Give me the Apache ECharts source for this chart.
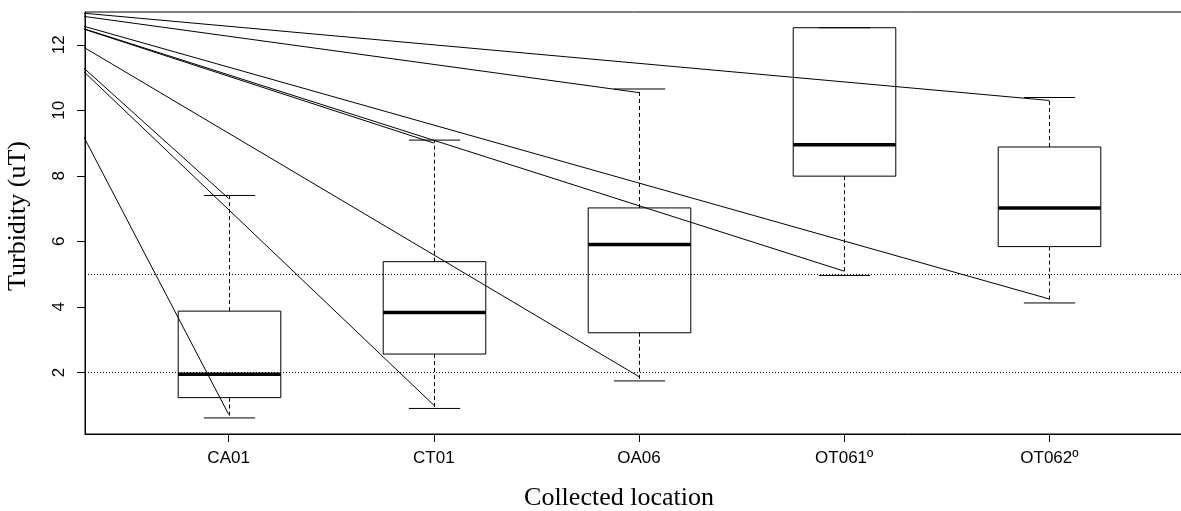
<!DOCTYPE html>
<html>
<head>
<meta charset="utf-8">
<script src="https://cdn.jsdelivr.net/npm/echarts@6/dist/echarts.min.js"></script>
<style>
html,body{margin:0;padding:0;background:#fff;}
#chart{width:1181px;height:511px;}
</style>
</head>
<body>
<div id="chart"></div>
<script>
// ---- data ----
const categories   = ['CA01', 'CT01', 'OA06', 'OT061º', 'OT062º'];
const whiskerLow   = [0.61, 0.90, 1.74, 4.96, 4.12];
const q1           = [1.23, 2.56, 3.21, 7.99, 5.84];
const median       = [1.94, 3.83, 5.90, 8.95, 7.02];
const q3           = [3.87, 5.38, 7.02, 12.52, 8.88];
const whiskerHigh  = [7.40, 9.09, 10.65, 12.52, 10.39];
const yTicks       = [2, 4, 6, 8, 10, 12];
const xTicks       = [1, 2, 3, 4, 5];
const refLines     = [2, 5];
// stray straight segments: all start at one point left of the plot and end near whisker tips
const strayOrigin  = [-0.036, 13.15];
const strayEndX    = [1, 1, 2, 2, 3, 3, 4, 5, 5];
const strayEndY    = [7.31, 0.72, 9.00, 1.00, 10.54, 1.87, 5.09, 10.30, 4.24];

const xLabel = 'Collected location';
const yLabel = 'Turbidity (uT)';

// ---- chart ----
const chart = echarts.init(document.getElementById('chart'), null, {renderer: 'canvas'});

const boxData = categories.map((c, i) => [xTicks[i], whiskerLow[i], q1[i], median[i], q3[i], whiskerHigh[i]]);

function renderBox(params, api) {
  const x = api.value(0);
  const lo = api.coord([x, api.value(1)]);
  const b1 = api.coord([x, api.value(2)]);
  const md = api.coord([x, api.value(3)]);
  const b3 = api.coord([x, api.value(4)]);
  const hi = api.coord([x, api.value(5)]);
  const half = api.size([0.5, 0])[0] / 2;
  const capHalf = half / 2;
  const cx = Math.round(lo[0]) + 0.5;
  const solid = {stroke: '#000', lineWidth: 1, fill: null};
  const dashed = {stroke: '#000', lineWidth: 1, lineDash: [4, 3], fill: null};
  const children = [];
  if (hi[1] < b3[1] - 0.5) {
    children.push({type: 'line', shape: {x1: cx, y1: b3[1], x2: cx, y2: hi[1]}, style: dashed});
  }
  if (lo[1] > b1[1] + 0.5) {
    children.push({type: 'line', shape: {x1: cx, y1: b1[1], x2: cx, y2: lo[1]}, style: dashed});
  }
  children.push({type: 'line', shape: {x1: cx - capHalf, y1: hi[1], x2: cx + capHalf, y2: hi[1]}, style: solid});
  children.push({type: 'line', shape: {x1: cx - capHalf, y1: lo[1], x2: cx + capHalf, y2: lo[1]}, style: solid});
  children.push({type: 'rect', shape: {x: cx - half, y: b3[1], width: 2 * half, height: b1[1] - b3[1]}, style: solid});
  children.push({type: 'line', shape: {x1: cx - half, y1: md[1], x2: cx + half, y2: md[1]}, style: {stroke: '#000', lineWidth: 3.5}});
  return {type: 'group', children: children};
}

const straySeries = strayEndX.map((ex, i) => ({
  type: 'line',
  data: [strayOrigin, [ex, strayEndY[i]]],
  symbol: 'none',
  clip: true,
  silent: true,
  z: 4,
  lineStyle: {color: '#000', width: 1},
  animation: false
}));

const tickFont = {color: '#000', fontFamily: '"Liberation Sans", Arial, sans-serif', fontSize: 17};

const option = {
  animation: false,
  backgroundColor: '#fff',
  grid: {
    left: 85, right: -12, top: 12, bottom: 77,
    show: true, borderColor: '#000', borderWidth: 1, backgroundColor: 'transparent',
    containLabel: false, outerBoundsMode: 'none'
  },
  xAxis: {
    type: 'value', min: 0.3, max: 5.7,
    axisLine: {show: true, onZero: false, lineStyle: {color: '#000', width: 1}},
    axisTick: {show: true, length: 8, customValues: xTicks, lineStyle: {color: '#000', width: 1}},
    axisLabel: Object.assign({
      customValues: xTicks, margin: 16,
      formatter: v => categories[Math.round(v) - 1] || ''
    }, tickFont),
    splitLine: {show: false}
  },
  yAxis: {
    type: 'value', min: 0.12, max: 13.0,
    axisLine: {show: true, onZero: false, lineStyle: {color: '#000', width: 1}},
    axisTick: {show: true, length: 8, customValues: yTicks, lineStyle: {color: '#000', width: 1}},
    axisLabel: Object.assign({customValues: yTicks, margin: 17, rotate: 90}, tickFont),
    splitLine: {show: false}
  },
  graphic: [
    {type: 'text', x: 619, y: 498, silent: true,
     style: {text: xLabel, font: '26px "Liberation Serif", "Times New Roman", serif', fill: '#000', textAlign: 'center', textVerticalAlign: 'middle'}},
    {type: 'text', x: 18, y: 216, rotation: Math.PI / 2, silent: true,
     style: {text: yLabel, font: '26px "Liberation Serif", "Times New Roman", serif', fill: '#000', textAlign: 'center', textVerticalAlign: 'middle'}}
  ],
  series: [
    {
      type: 'line', data: [], symbol: 'none', silent: true,
      markLine: {
        silent: true, symbol: ['none', 'none'], label: {show: false}, animation: false,
        lineStyle: {color: '#000', width: 1, type: [1, 2]},
        data: refLines.map(v => ({yAxis: v}))
      }
    },
    {
      type: 'custom', renderItem: renderBox, data: boxData, z: 3, silent: true,
      encode: {x: 0, y: [1, 2, 3, 4, 5]}
    }
  ].concat(straySeries)
};

chart.setOption(option);
</script>
</body>
</html>
